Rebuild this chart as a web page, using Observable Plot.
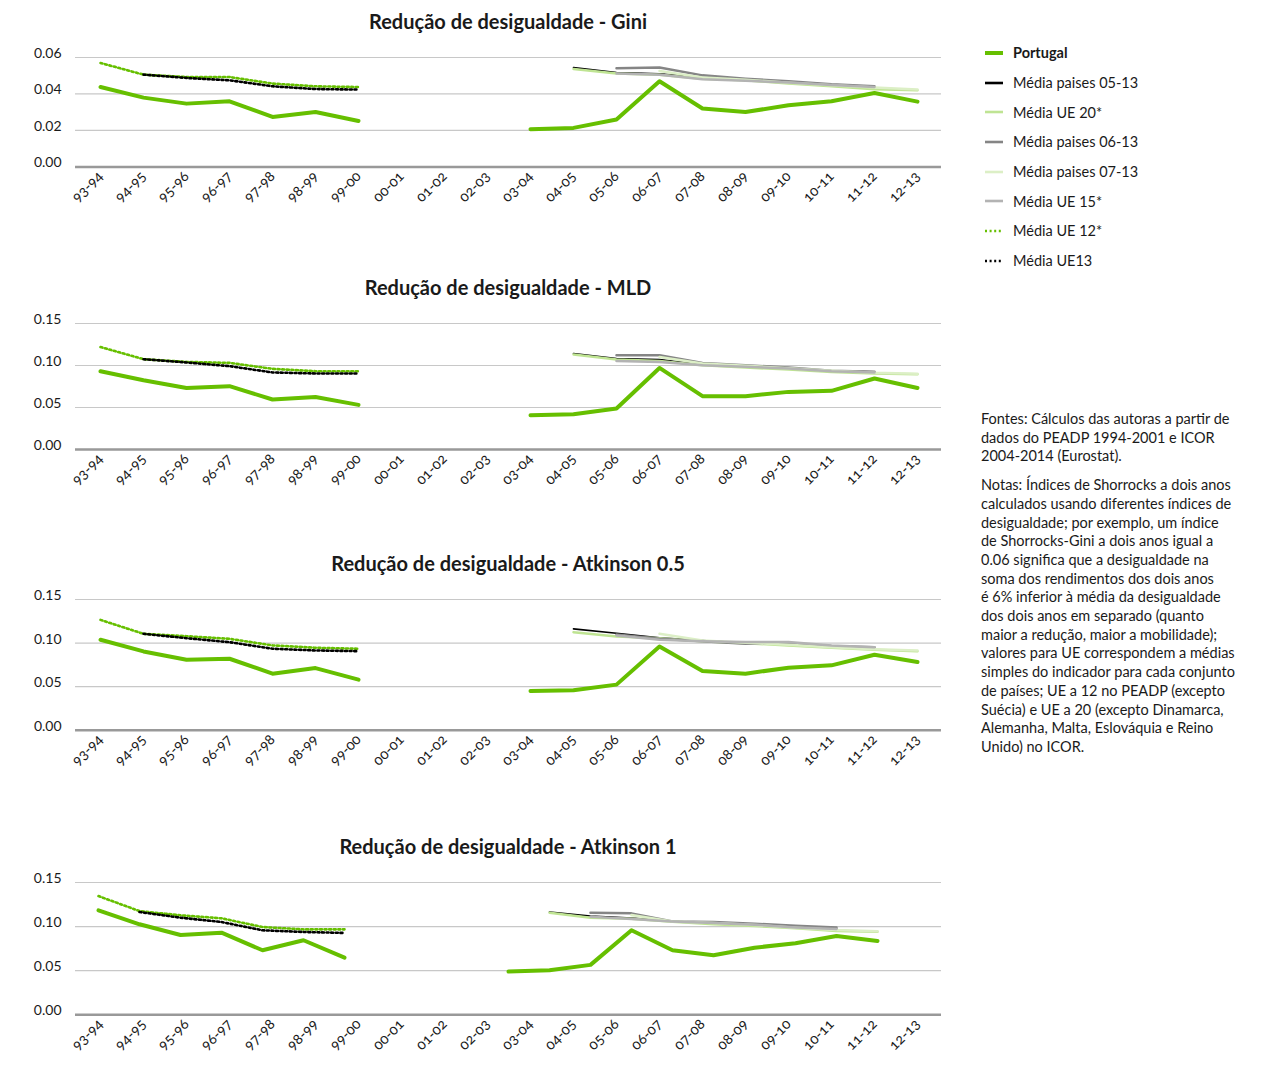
<!DOCTYPE html>
<html><head><meta charset="utf-8">
<script src="https://cdn.jsdelivr.net/npm/d3@7"></script>
<script src="https://cdn.jsdelivr.net/npm/@observablehq/plot@0.6"></script>
<style>
body{margin:0;background:#fff;font-family:Lato,"Open Sans",sans-serif;color:#1a1a1a}
#root{position:relative;width:1265px;height:1069px;overflow:hidden}
.title{position:absolute;left:75px;width:866px;text-align:center;font-weight:bold;font-size:20px;line-height:22px;color:#1a1a1a}
.panel{position:absolute;left:0}
#legend{position:absolute;left:985px;top:38px}
.lrow{height:29.7px;display:flex;align-items:center;font-size:14.5px;white-space:nowrap}
.lrow svg{margin-right:10px}
#notes{position:absolute;left:981px;top:410px;font-size:14.5px;line-height:18.7px;white-space:nowrap;color:#1a1a1a}
#notes p{margin:0 0 10px 0}
</style>
</head><body><div id="root"></div>
<script>
// ---------- data ----------
const cats = ["93-94","94-95","95-96","96-97","97-98","98-99","99-00","00-01","01-02","02-03","03-04","04-05","05-06","06-07","07-08","08-09","09-10","10-11","11-12","12-13"];
const _ = null;

// Gini
const giniPortugal = [0.0438,0.0380,0.0347,0.0360,0.0274,0.0301,0.0252,_,_,_,0.0207,0.0214,0.0260,0.0470,0.0320,0.0301,0.0338,0.0360,0.0405,0.0358];
const giniM0513 = [_,_,_,_,_,_,_,_,_,_,_,0.0545,0.0517,0.0510,0.0490,0.0478,0.0465,0.0450,0.0440,_];
const giniUE20  = [_,_,_,_,_,_,_,_,_,_,_,0.0537,0.0512,0.0506,0.0484,0.0475,0.0457,0.0442,0.0426,0.0420];
const giniM0613 = [_,_,_,_,_,_,_,_,_,_,_,_,0.0541,0.0545,0.0502,0.0484,0.0470,0.0453,0.0442,_];
const giniM0713 = [_,_,_,_,_,_,_,_,_,_,_,_,_,0.0526,0.0490,0.0478,0.0462,0.0448,0.0435,0.0425];
const giniUE15  = [_,_,_,_,_,_,_,_,_,_,_,_,0.0512,0.0506,0.0481,0.0472,0.0463,0.0449,0.0438,_];
const giniUE12  = [0.0570,0.0506,0.0493,0.0493,0.0457,0.0442,0.0438,_,_,_,_,_,_,_,_,_,_,_,_,_];
const giniUE13  = [_,0.0506,0.0488,0.0475,0.0442,0.0427,0.0424,_,_,_,_,_,_,_,_,_,_,_,_,_];

// MLD
const mldPortugal = [0.0932,0.0825,0.0733,0.0754,0.0595,0.0626,0.0531,_,_,_,0.0408,0.0420,0.0488,0.0971,0.0635,0.0635,0.0686,0.0698,0.0845,0.0733];
const mldM0513 = [_,_,_,_,_,_,_,_,_,_,_,0.1143,0.1083,0.1070,0.1010,0.0990,0.0970,0.0935,0.0925,_];
const mldUE20  = [_,_,_,_,_,_,_,_,_,_,_,0.1131,0.1071,0.1055,0.1004,0.0976,0.0952,0.0924,0.0905,0.0896];
const mldM0613 = [_,_,_,_,_,_,_,_,_,_,_,_,0.1123,0.1123,0.1031,0.1004,0.0976,0.0937,0.0925,_];
const mldM0713 = [_,_,_,_,_,_,_,_,_,_,_,_,_,0.1102,0.1024,0.0996,0.0968,0.0937,0.0913,0.0901];
const mldUE15  = [_,_,_,_,_,_,_,_,_,_,_,_,0.1055,0.1043,0.1004,0.0984,0.0964,0.0932,0.0917,_];
const mldUE12  = [0.1220,0.1075,0.1043,0.1031,0.0960,0.0932,0.0932,_,_,_,_,_,_,_,_,_,_,_,_,_];
const mldUE13  = [_,0.1075,0.1036,0.0992,0.0917,0.0905,0.0905,_,_,_,_,_,_,_,_,_,_,_,_,_];

// Atkinson 0.5
const a05Portugal = [0.1038,0.0904,0.0809,0.0820,0.0649,0.0713,0.0580,_,_,_,0.0450,0.0458,0.0523,0.0961,0.0679,0.0649,0.0717,0.0744,0.0866,0.0782];
const a05M0513 = [_,_,_,_,_,_,_,_,_,_,_,0.1163,0.1113,0.1060,0.1030,0.0999,0.0980,0.0961,0.0946,_];
const a05UE20  = [_,_,_,_,_,_,_,_,_,_,_,0.1125,0.1076,0.1055,0.1022,0.0999,0.0973,0.0946,0.0923,0.0907];
const a05M0613 = [_,_,_,_,_,_,_,_,_,_,_,_,0.1098,0.1049,0.1022,0.0992,0.0992,0.0965,0.0953,_];
const a05M0713 = [_,_,_,_,_,_,_,_,_,_,_,_,_,0.1106,0.1030,0.1003,0.0980,0.0953,0.0930,0.0915];
const a05UE15  = [_,_,_,_,_,_,_,_,_,_,_,_,0.1087,0.1037,0.1022,0.1011,0.1011,0.0973,0.0953,_];
const a05UE12  = [0.1266,0.1106,0.1079,0.1049,0.0973,0.0946,0.0935,_,_,_,_,_,_,_,_,_,_,_,_,_];
const a05UE13  = [_,0.1106,0.1056,0.1010,0.0935,0.0915,0.0907,_,_,_,_,_,_,_,_,_,_,_,_,_];

// Atkinson 1
const a1Portugal = [0.1184,0.1026,0.0905,0.0931,0.0732,0.0845,0.0648,_,_,_,0.0490,0.0505,0.0566,0.0958,0.0732,0.0675,0.0761,0.0811,0.0894,0.0837];
const a1M0513 = [_,_,_,_,_,_,_,_,_,_,_,0.1165,0.1120,0.1097,0.1059,0.1041,0.1022,0.1003,0.0977,_];
const a1UE20  = [_,_,_,_,_,_,_,_,_,_,_,0.1157,0.1101,0.1090,0.1055,0.1026,0.1007,0.0981,0.0950,0.0943];
const a1M0613 = [_,_,_,_,_,_,_,_,_,_,_,_,0.1157,0.1150,0.1059,0.1052,0.1033,0.1011,0.0991,_];
const a1M0713 = [_,_,_,_,_,_,_,_,_,_,_,_,_,0.1131,0.1059,0.1041,0.1018,0.0988,0.0961,0.0946];
const a1UE15  = [_,_,_,_,_,_,_,_,_,_,_,_,0.1112,0.1086,0.1059,0.1041,0.1022,0.0991,0.0973,_];
const a1UE12  = [0.1346,0.1176,0.1128,0.1094,0.0995,0.0969,0.0969,_,_,_,_,_,_,_,_,_,_,_,_,_];
const a1UE13  = [_,0.1165,0.1101,0.1052,0.0958,0.0939,0.0928,_,_,_,_,_,_,_,_,_,_,_,_,_];

const seriesNames = ["Portugal","Média paises 05-13","Média UE 20*","Média paises 06-13","Média paises 07-13","Média UE 15*","Média UE 12*","Média UE13"];
const titles = ["Redução de desigualdade - Gini","Redução de desigualdade - MLD","Redução de desigualdade - Atkinson 0.5","Redução de desigualdade - Atkinson 1"];
const yTicksGini = [0, 0.02, 0.04, 0.06];
const yTicksOther = [0, 0.05, 0.10, 0.15];

// ---------- styles ----------
const styles = {
  "Portugal":           {stroke:"#66bf00", strokeWidth:4},
  "Média paises 05-13": {stroke:"#000000", strokeWidth:1.6},
  "Média UE 20*":       {stroke:"#bfe493", strokeWidth:2.5},
  "Média paises 06-13": {stroke:"#858585", strokeWidth:2.5},
  "Média paises 07-13": {stroke:"#dcefc6", strokeWidth:2.5},
  "Média UE 15*":       {stroke:"#b3b3b3", strokeWidth:2.5},
  "Média UE 12*":       {stroke:"#66bf00", strokeWidth:2.6, strokeDasharray:"2,2.6"},
  "Média UE13":         {stroke:"#000000", strokeWidth:2.6, strokeDasharray:"2,2.6"}
};
const drawOrder = ["Média paises 05-13","Média UE 20*","Média paises 06-13","Média paises 07-13","Média UE 15*","Média UE 12*","Média UE13","Portugal"];

const panels = [
  {title:titles[0], titleY:10, yTop:57.3, yBottom:166.7, max:0.06, ticks:yTicksGini, overlay:false,
   s:{"Portugal":giniPortugal,"Média paises 05-13":giniM0513,"Média UE 20*":giniUE20,"Média paises 06-13":giniM0613,"Média paises 07-13":giniM0713,"Média UE 15*":giniUE15,"Média UE 12*":giniUE12,"Média UE13":giniUE13}},
  {title:titles[1], titleY:276, yTop:323.3, yBottom:449.3, max:0.15, ticks:yTicksOther, overlay:false,
   s:{"Portugal":mldPortugal,"Média paises 05-13":mldM0513,"Média UE 20*":mldUE20,"Média paises 06-13":mldM0613,"Média paises 07-13":mldM0713,"Média UE 15*":mldUE15,"Média UE 12*":mldUE12,"Média UE13":mldUE13}},
  {title:titles[2], titleY:552, yTop:599.3, yBottom:730, max:0.15, ticks:yTicksOther, overlay:false,
   s:{"Portugal":a05Portugal,"Média paises 05-13":a05M0513,"Média UE 20*":a05UE20,"Média paises 06-13":a05M0613,"Média paises 07-13":a05M0713,"Média UE 15*":a05UE15,"Média UE 12*":a05UE12,"Média UE13":a05UE13}},
  {title:titles[3], titleY:835, yTop:881.7, yBottom:1014, max:0.15, ticks:yTicksOther, overlay:true,
   s:{"Portugal":a1Portugal,"Média paises 05-13":a1M0513,"Média UE 20*":a1UE20,"Média paises 06-13":a1M0613,"Média paises 07-13":a1M0713,"Média UE 15*":a1UE15,"Média UE 12*":a1UE12,"Média UE13":a1UE13}}
];

const root = document.getElementById("root");
const W = 945, ML = 75, MR = 4, MT = 15, MB = 60;
const font = {fontFamily:"Lato, 'Open Sans', sans-serif", fontSize:"14px", color:"#1a1a1a", fontVariantNumeric:"oldstyle-nums"};

function lineMarks(p) {
  return drawOrder.map(name => {
    const rows = cats.map((c, i) => ({cat:c, v:p.s[name][i]}));
    return Plot.line(rows, {x:"cat", y:"v", strokeLinejoin:"round", ...styles[name]});
  });
}

panels.forEach(p => {
  const ph = p.yBottom - p.yTop;
  const H = MT + ph + MB;
  const t = document.createElement("div");
  t.className = "title"; t.style.top = p.titleY + "px"; t.textContent = p.title;
  root.appendChild(t);

  const base = Plot.plot({
    width:W, height:H, marginLeft:ML, marginRight:MR, marginTop:MT, marginBottom:MB,
    style:font,
    x:{type:"point", domain:cats, padding:0.5, label:null},
    y:{domain:[0,p.max], label:null},
    marks:[
      Plot.ruleY(p.ticks.filter(d => d > 0), {stroke:"#c8c8c8", strokeWidth:1.2}),
      Plot.ruleY([0], {stroke:"#999999", strokeWidth:2.5}),
      Plot.axisY(p.ticks, {tickSize:0, tickPadding:14, tickFormat:d3.format(".2f"), dy:-4, fontSize:14, label:null}),
      Plot.axisX({tickSize:0, tickRotate:-45, tickPadding:7, fontSize:14.5, label:null}),
      ...(p.overlay ? [] : lineMarks(p))
    ]
  });
  const d = document.createElement("div");
  d.className = "panel"; d.style.top = (p.yTop - MT) + "px";
  d.appendChild(base);
  root.appendChild(d);

  if (p.overlay) {
    // the source chart plots this panel's lines on a 21-slot category axis
    const over = Plot.plot({
      width:W, height:H, marginLeft:ML, marginRight:MR, marginTop:MT, marginBottom:MB,
      style:{background:"transparent"},
      x:{type:"point", domain:[...cats, ""], padding:0.5, axis:null},
      y:{domain:[0,p.max], axis:null},
      marks: lineMarks(p)
    });
    const o = document.createElement("div");
    o.className = "panel"; o.style.top = (p.yTop - MT) + "px";
    o.appendChild(over);
    root.appendChild(o);
  }
});

// legend
const lg = document.createElement("div");
lg.id = "legend";
seriesNames.forEach(name => {
  const st = styles[name];
  const row = document.createElement("div");
  row.className = "lrow";
  if (name === "Portugal") row.style.fontWeight = "bold";
  row.innerHTML = `<svg width="18" height="6"><line x1="0" x2="18" y1="3" y2="3" stroke="${st.stroke}" stroke-width="${name==='Portugal'?4:2.6}" ${st.strokeDasharray?`stroke-dasharray="${st.strokeDasharray}"`:""}/></svg><span>${name}</span>`;
  lg.appendChild(row);
});
root.appendChild(lg);

// notes
const fontes = ["Fontes: Cálculos das autoras a partir de","dados do PEADP 1994-2001 e ICOR","2004-2014 (Eurostat)."];
const notas = ["Notas: Índices de Shorrocks a dois anos","calculados usando diferentes índices de","desigualdade; por exemplo, um índice","de Shorrocks-Gini a dois anos igual a","0.06 significa que a desigualdade na","soma dos rendimentos dos dois anos","é 6% inferior à média da desigualdade","dos dois anos em separado (quanto","maior a redução, maior a mobilidade);","valores para UE correspondem a médias","simples do indicador para cada conjunto","de países; UE a 12 no PEADP (excepto","Suécia) e UE a 20 (excepto Dinamarca,","Alemanha, Malta, Eslováquia e Reino","Unido) no ICOR."];
const nt = document.createElement("div");
nt.id = "notes";
const p1 = document.createElement("p"); p1.innerHTML = fontes.join("<br>");
const p2 = document.createElement("p"); p2.innerHTML = notas.join("<br>");
nt.appendChild(p1); nt.appendChild(p2);
root.appendChild(nt);
</script>
</body></html>
